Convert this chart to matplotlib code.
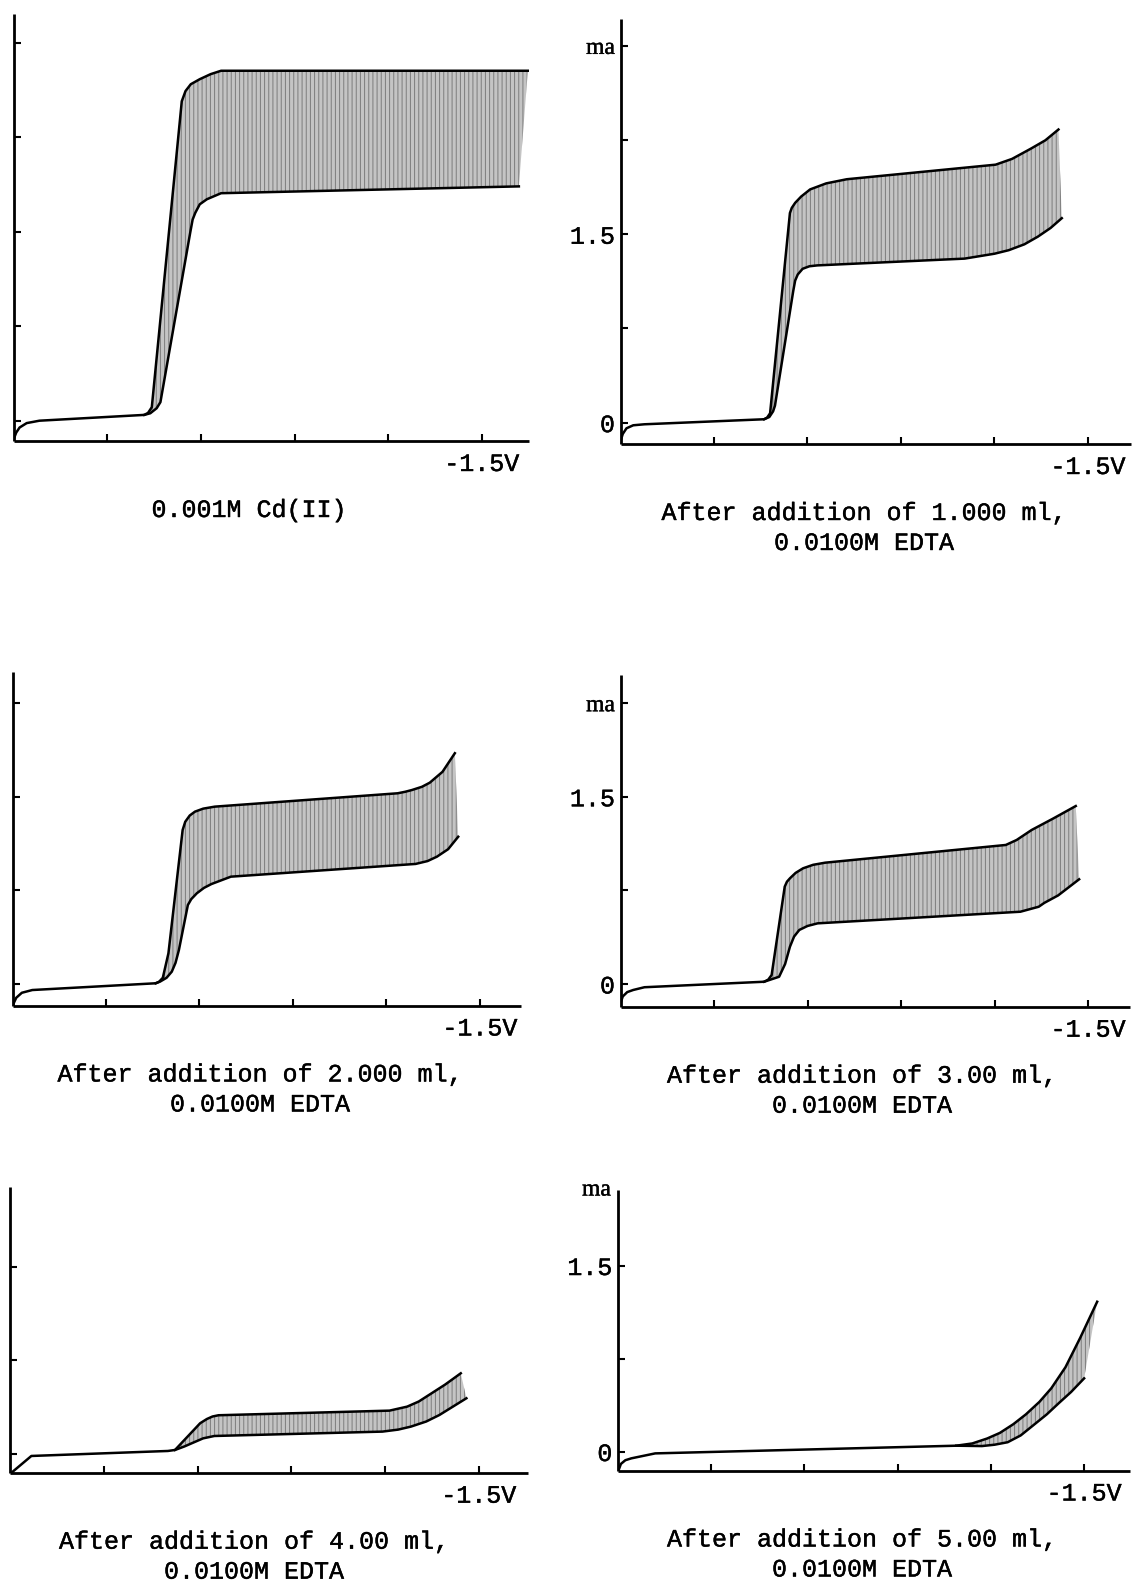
import numpy as np
import matplotlib
matplotlib.use('Agg')
import matplotlib.pyplot as plt
import matplotlib.patheffects as pe

plt.rcParams['hatch.linewidth'] = 0.7

W, H = 1135, 1583
TYPE = 'Liberation Mono'
SERIF = 'Liberation Serif'
INK = [pe.withStroke(linewidth=0.3, foreground='black')]

# ---- data: potential (-E, V) and current (ma), upper and lower envelope ----
a_up_v = [0.25, 0.257, 0.266, 0.285, 0.319, 0.599, 0.609, 0.619, 0.699, 0.709, 0.723, 0.747, 0.776, 0.804, 1.623]
a_up_i = [-0.147, -0.093, -0.053, -0.018, 0.001, 0.047, 0.063, 0.108, 2.534, 2.615, 2.669, 2.709, 2.749, 2.776, 2.776]
a_lo_v = [0.599, 0.615, 0.632, 0.642, 0.722, 0.728, 0.735, 0.747, 0.766, 0.804, 1.599]
a_lo_i = [0.047, 0.060, 0.100, 0.148, 1.50, 1.596, 1.649, 1.717, 1.757, 1.805, 1.859]

b_up_v = [0.25, 0.256, 0.266, 0.284, 0.314, 0.634, 0.642, 0.650, 0.703, 0.708, 0.717, 0.733, 0.757,
          0.80, 0.855, 1.253, 1.297, 1.347, 1.386, 1.421]
b_up_i = [-0.148, -0.09, -0.045, -0.021, -0.013, 0.027, 0.040, 0.075, 1.669, 1.71, 1.75, 1.80, 1.857,
          1.905, 1.938, 2.054, 2.100, 2.181, 2.248, 2.334]
b_lo_v = [0.634, 0.648, 0.658, 0.663, 0.712, 0.717, 0.724, 0.737, 0.755, 0.776, 1.170, 1.25, 1.288,
          1.33, 1.366, 1.40, 1.430]
b_lo_i = [0.027, 0.045, 0.09, 0.135, 1.05, 1.131, 1.18, 1.225, 1.245, 1.252, 1.306, 1.345, 1.373,
          1.42, 1.481, 1.55, 1.628]

c_up_v = [0.253, 0.26, 0.275, 0.303, 0.633, 0.642, 0.652, 0.667, 0.705, 0.712, 0.724, 0.738, 0.76,
          0.791, 1.280, 1.30, 1.318, 1.345, 1.366, 1.40, 1.433]
c_up_i = [-0.155, -0.11, -0.07, -0.048, 0.006, 0.018, 0.05, 0.246, 1.234, 1.30, 1.35, 1.381, 1.405,
          1.421, 1.528, 1.54, 1.554, 1.58, 1.613, 1.70, 1.849]
c_lo_v = [0.633, 0.645, 0.662, 0.676, 0.686, 0.695, 0.719, 0.728, 0.743, 0.762, 0.782, 0.834, 1.328,
          1.36, 1.385, 1.415, 1.442]
c_lo_i = [0.006, 0.02, 0.05, 0.099, 0.17, 0.272, 0.633, 0.68, 0.727, 0.77, 0.801, 0.860, 0.962,
          0.985, 1.020, 1.08, 1.180]

d_up_v = [0.25, 0.256, 0.268, 0.284, 0.314, 0.634, 0.645, 0.654, 0.689, 0.695, 0.703, 0.718, 0.738,
          0.765, 0.797, 1.280, 1.309, 1.349, 1.408, 1.467]
d_up_i = [-0.155, -0.10, -0.065, -0.048, -0.026, 0.018, 0.035, 0.072, 0.78, 0.82, 0.847, 0.89, 0.927,
          0.955, 0.972, 1.114, 1.154, 1.234, 1.328, 1.426]
d_lo_v = [0.634, 0.674, 0.690, 0.703, 0.714, 0.728, 0.75, 0.777, 1.319, 1.368, 1.383, 1.42, 1.476]
d_lo_i = [0.018, 0.058, 0.16, 0.299, 0.38, 0.433, 0.465, 0.486, 0.579, 0.619, 0.65, 0.71, 0.839]

e_up_v = [0.252, 0.307, 0.671, 0.690, 0.757, 0.775, 0.79, 0.806, 1.262, 1.309, 1.34, 1.367, 1.41, 1.452]
e_up_i = [-0.155, -0.016, 0.024, 0.032, 0.246, 0.28, 0.30, 0.310, 0.347, 0.379, 0.42, 0.472, 0.555, 0.646]
e_lo_v = [0.690, 0.715, 0.738, 0.765, 0.795, 1.243, 1.285, 1.319, 1.36, 1.395, 1.467]
e_lo_i = [0.032, 0.06, 0.090, 0.125, 0.144, 0.179, 0.195, 0.219, 0.26, 0.312, 0.446]

f_up_v = [0.252, 0.258, 0.27, 0.286, 0.350, 1.157, 1.20, 1.24, 1.274, 1.31, 1.344, 1.38, 1.412, 1.45,
          1.49, 1.535]
f_up_i = [-0.149, -0.10, -0.07, -0.055, -0.015, 0.047, 0.065, 0.105, 0.15, 0.22, 0.30, 0.40, 0.51, 0.68,
          0.92, 1.208]
f_lo_v = [1.157, 1.226, 1.26, 1.295, 1.33, 1.363, 1.40, 1.432, 1.465, 1.50]
f_lo_i = [0.047, 0.044, 0.055, 0.075, 0.13, 0.21, 0.30, 0.39, 0.48, 0.59]

captions = [
    ['0.001M Cd(II)'],
    ['After addition of 1.000 ml,', '0.0100M EDTA'],
    ['After addition of 2.000 ml,', '0.0100M EDTA'],
    ['After addition of 3.00 ml,', '0.0100M EDTA'],
    ['After addition of 4.00 ml,', '0.0100M EDTA'],
    ['After addition of 5.00 ml,', '0.0100M EDTA'],
]

# panel boxes in pixels: x0, x1, ytop, ybottom ; limits
panels = [
    dict(box=(13.6, 528.6, 13.5, 441), xlim=1.625, ylim=(-0.160, 3.23), yt=[0, .75, 1.5, 2.25, 3.0],
         ylab=None, up=(a_up_v, a_up_i), lo=(a_lo_v, a_lo_i), cx=249),
    dict(box=(620.5, 1131, 18.6, 444), xlim=1.615, ylim=(-0.170, 3.217), yt=[0, .75, 1.5, 2.25, 3.0],
         ylab=['0', '', '1.5', '', 'ma'], up=(b_up_v, b_up_i), lo=(b_lo_v, b_lo_i), cx=864),
    dict(box=(12.5, 521.4, 671.7, 1005.5), xlim=1.611, ylim=(-0.172, 2.502), yt=[0, .75, 1.5, 2.25],
         ylab=None, up=(c_up_v, c_up_i), lo=(c_lo_v, c_lo_i), cx=260),
    dict(box=(620.5, 1130, 675, 1006.7), xlim=1.612, ylim=(-0.182, 2.476), yt=[0, .75, 1.5, 2.25],
         ylab=['0', '', '1.5', 'ma'], up=(d_up_v, d_up_i), lo=(d_lo_v, d_lo_i), cx=862),
    dict(box=(10, 527.9, 1186.7, 1472.7), xlim=1.631, ylim=(-0.150, 2.14), yt=[0, .75, 1.5],
         ylab=None, up=(e_up_v, e_up_i), lo=(e_lo_v, e_lo_i), cx=254),
    dict(box=(617.9, 1130, 1190, 1470.5), xlim=1.623, ylim=(-0.153, 2.109), yt=[0, .75, 1.5],
         ylab=['0', '', '1.5'], up=(f_up_v, f_up_i), lo=(f_lo_v, f_lo_i), cx=862, top_ma=True),
]

fig = plt.figure(figsize=(W / 100, H / 100), dpi=100)
fig.patch.set_facecolor('white')

for p, cap in zip(panels, captions):
    x0, x1, yt0, yb = p['box']
    ax = fig.add_axes([x0 / W, 1 - yb / H, (x1 - x0) / W, (yb - yt0) / H])
    ax.set_xlim(0.25, p['xlim'])
    ax.set_ylim(*p['ylim'])
    for s in ['top', 'right']:
        ax.spines[s].set_visible(False)
    for s in ['left', 'bottom']:
        ax.spines[s].set_linewidth(2.0)
        ax.spines[s].set_capstyle('butt')

    uv, ui = np.array(p['up'][0]), np.array(p['up'][1])
    lv, li = np.array(p['lo'][0]), np.array(p['lo'][1])

    # pencil shading between the two envelopes
    m = uv >= lv[0]
    px = np.concatenate([uv[m], lv[::-1]])
    py = np.concatenate([ui[m], li[::-1]])
    ax.fill(px, py, facecolor='#c4c4c4', edgecolor='#7c7c7c', hatch='||||', linewidth=0, zorder=1)

    ax.plot(uv, ui, color='black', lw=1.8, solid_joinstyle='round', zorder=3)
    ax.plot(lv, li, color='black', lw=1.8, solid_joinstyle='round', zorder=3)

    ax.set_xticks([0.5, 0.75, 1.0, 1.25, 1.5])
    ax.set_xticklabels([])
    ax.tick_params(axis='x', direction='in', length=5, width=1.5)
    ax.annotate('-1.5V', xy=(1.5, 0), xycoords=('data', 'axes fraction'), xytext=(0, -30),
                textcoords='offset pixels', ha='center', va='baseline', family=TYPE, fontsize=18,
                path_effects=INK)

    ax.set_yticks(p['yt'])
    if p['ylab'] is None:
        ax.set_yticklabels([])
    else:
        ax.set_yticklabels(p['ylab'], family=TYPE, fontsize=18)
        for t, s in zip(ax.get_yticklabels(), p['ylab']):
            t.set_path_effects(INK)
            if s == 'ma':
                t.set_fontfamily(SERIF)
                t.set_fontsize(17)
    ax.tick_params(axis='y', direction='in', length=5, width=1.5, pad=4)

    if p.get('top_ma'):
        ax.text(-7 / (x1 - x0), 1.0, 'ma', transform=ax.transAxes, ha='right', va='center',
                family=SERIF, fontsize=17, path_effects=INK)

    for k, line in enumerate(cap):
        fig.text(p['cx'] / W, 1 - (yb + 76 + 30 * k) / H, line, ha='center', va='baseline',
                 family=TYPE, fontsize=18, path_effects=INK)

fig.savefig('out.png', dpi=100, facecolor='white')
